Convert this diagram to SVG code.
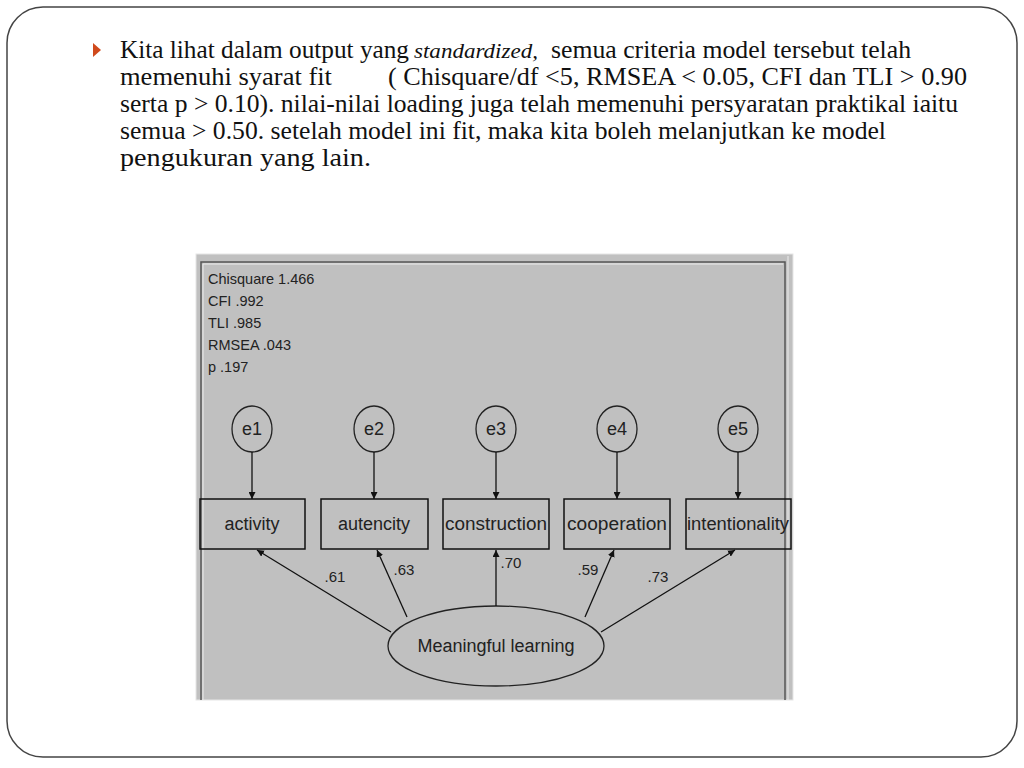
<svg xmlns="http://www.w3.org/2000/svg" width="1024" height="768" viewBox="0 0 1024 768">
<defs>
<style>
.para{font-family:"Liberation Serif","DejaVu Serif",serif;font-size:25px;fill:#111}
.ital{font-style:italic}
.stat{font-family:"Liberation Sans",Arial,sans-serif;font-size:14.5px;fill:#222}
.lbl{font-family:"Liberation Sans",Arial,sans-serif;font-size:18px;fill:#222;text-anchor:middle}
.load{font-family:"Liberation Sans",Arial,sans-serif;font-size:15px;fill:#222;text-anchor:middle}
.box{fill:none;stroke:#111;stroke-width:1.5}
.lat{fill:none;stroke:#222;stroke-width:1.3}
.con{stroke:#111;stroke-width:1.3;fill:none;marker-end:url(#ah)}
</style>
<marker id="ah" viewBox="0 0 10 10" refX="10" refY="5" markerWidth="7" markerHeight="7" markerUnits="userSpaceOnUse" orient="auto">
<path d="M0,0 L10,5 L0,10 z" fill="#111"/>
</marker>
</defs>
<rect x="0" y="0" width="1024" height="768" fill="#fff"/>
<rect x="7" y="7" width="1010" height="750" rx="36" ry="36" fill="none" stroke="#444" stroke-width="1.5"/>
<polygon points="93,43 101,50 93,57" fill="#d04a1c"/>
<g id="paragraph">
<text class="para" x="120" y="58" textLength="289" lengthAdjust="spacingAndGlyphs">Kita lihat dalam output yang</text>
<text class="para ital" x="414" y="58" textLength="124" lengthAdjust="spacingAndGlyphs" style="font-size:21px">standardized,</text>
<text class="para" x="551" y="58" textLength="360" lengthAdjust="spacingAndGlyphs">semua criteria model tersebut telah</text>
<text class="para" x="120" y="85" textLength="212" lengthAdjust="spacingAndGlyphs">memenuhi syarat fit</text>
<text class="para" x="388" y="85" textLength="579" lengthAdjust="spacingAndGlyphs">( Chisquare/df &lt;5, RMSEA &lt; 0.05, CFI dan TLI &gt; 0.90</text>
<text class="para" x="120" y="112" textLength="838" lengthAdjust="spacingAndGlyphs">serta p &gt; 0.10). nilai-nilai loading juga telah memenuhi persyaratan praktikal iaitu</text>
<text class="para" x="120" y="139" textLength="766" lengthAdjust="spacingAndGlyphs">semua &gt; 0.50. setelah model ini fit, maka kita boleh melanjutkan ke model</text>
<text class="para" x="120" y="166" textLength="251" lengthAdjust="spacingAndGlyphs">pengukuran yang lain.</text>
</g>
<g id="panel">
<rect x="196" y="254" width="597" height="446" fill="#c0c0c0"/>
<rect x="196" y="254" width="597" height="446" fill="none" stroke="#e6e6e6" stroke-width="1"/>
<path d="M201,700 V262 H785 V700" fill="none" stroke="#555" stroke-width="1.5"/>
<path d="M203,700 V264 H783" fill="none" stroke="#ececec" stroke-width="1"/>
<path d="M788,256 V700" fill="none" stroke="#ececec" stroke-width="1"/>
</g>
<g id="fit-stats">
<text class="stat" x="208" y="284">Chisquare 1.466</text>
<text class="stat" x="208" y="306">CFI .992</text>
<text class="stat" x="208" y="328">TLI .985</text>
<text class="stat" x="208" y="350">RMSEA .043</text>
<text class="stat" x="208" y="372">p .197</text>
</g>
<g id="e1"><ellipse class="lat" cx="252" cy="429" rx="20" ry="23"/><text class="lbl" x="252" y="435">e1</text></g>
<g id="e2"><ellipse class="lat" cx="374" cy="429" rx="20" ry="23"/><text class="lbl" x="374" y="435">e2</text></g>
<g id="e3"><ellipse class="lat" cx="496" cy="429" rx="20" ry="23"/><text class="lbl" x="496" y="435">e3</text></g>
<g id="e4"><ellipse class="lat" cx="617" cy="429" rx="20" ry="23"/><text class="lbl" x="617" y="435">e4</text></g>
<g id="e5"><ellipse class="lat" cx="738" cy="429" rx="20" ry="23"/><text class="lbl" x="738" y="435">e5</text></g>
<g id="activity"><rect class="box" x="200" y="499" width="105" height="50"/><text class="lbl" x="252" y="530">activity</text></g>
<g id="autencity"><rect class="box" x="321" y="499" width="107" height="50"/><text class="lbl" x="374" y="530">autencity</text></g>
<g id="construction"><rect class="box" x="443" y="499" width="106" height="50"/><text class="lbl" x="496" y="530" textLength="102" lengthAdjust="spacingAndGlyphs">construction</text></g>
<g id="cooperation"><rect class="box" x="564" y="499" width="106" height="50"/><text class="lbl" x="617" y="530" textLength="100" lengthAdjust="spacingAndGlyphs">cooperation</text></g>
<g id="intentionality"><rect class="box" x="686" y="499" width="105" height="50"/><text class="lbl" x="738" y="530" textLength="102" lengthAdjust="spacingAndGlyphs">intentionality</text></g>
<g id="meaningful-learning"><ellipse class="lat" cx="496" cy="646" rx="108" ry="40"/><text class="lbl" x="496" y="652">Meaningful learning</text></g>
<g id="connectors">
<line class="con" x1="252" y1="452" x2="252" y2="499"/>
<line class="con" x1="374" y1="452" x2="374" y2="499"/>
<line class="con" x1="496" y1="452" x2="496" y2="499"/>
<line class="con" x1="617" y1="452" x2="617" y2="499"/>
<line class="con" x1="738" y1="452" x2="738" y2="499"/>
<line class="con" x1="391" y1="632" x2="257" y2="550"/>
<line class="con" x1="407" y1="617" x2="377" y2="550"/>
<line class="con" x1="496" y1="606" x2="496" y2="550"/>
<line class="con" x1="585" y1="617" x2="614" y2="550"/>
<line class="con" x1="601" y1="632" x2="735" y2="550"/>
</g>
<g id="loadings">
<text class="load" x="335" y="582">.61</text>
<text class="load" x="404" y="575">.63</text>
<text class="load" x="511" y="568">.70</text>
<text class="load" x="588" y="575">.59</text>
<text class="load" x="658" y="582">.73</text>
</g>
</svg>
